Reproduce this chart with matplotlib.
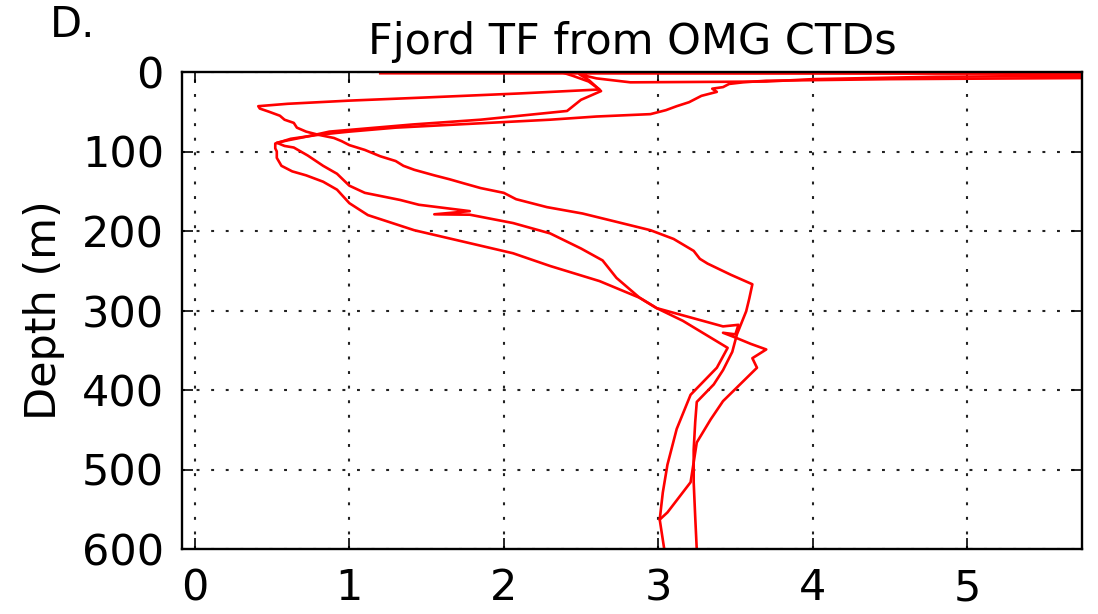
import matplotlib
matplotlib.use("Agg")
import matplotlib.pyplot as plt

# ---- data (thermal forcing in deg C vs depth in m) ----
p1_depth = [0, 5, 12, 22, 27, 32, 36, 40, 43, 46, 50, 55, 60, 64, 70, 75, 79, 83, 87,
            92, 98, 106, 112, 118, 123, 130, 135, 140, 146, 152, 160, 170, 178, 188,
            199, 210, 225, 235, 241, 255, 267, 285, 301, 330, 352, 375, 393, 415, 440,
            475, 516, 560, 601]
p1_tf = [2.37, 2.45, 2.55, 2.62, 2.1, 1.5, 1.0, 0.6, 0.41, 0.42, 0.48, 0.55, 0.58, 0.64,
         0.66, 0.72, 0.8, 0.9, 0.95, 1.0, 1.1, 1.2, 1.3, 1.35, 1.42, 1.55, 1.65, 1.74,
         1.85, 2.0, 2.08, 2.28, 2.51, 2.72, 2.95, 3.1, 3.23, 3.27, 3.32, 3.47, 3.61,
         3.59, 3.57, 3.51, 3.48, 3.42, 3.36, 3.25, 3.24, 3.23, 3.23, 3.24, 3.25]

p2_depth = [1.6, 2.2, 4, 6, 9, 12, 13, 8, 3, 10, 24, 35, 49, 60, 66, 75, 81, 86, 89, 93,
            95, 105, 118, 128, 143, 152, 161, 167, 175, 179, 179.5, 190, 203, 222, 237,
            259, 284, 297, 313, 347, 372, 406, 449, 494, 529, 563, 601]
p2_tf = [1.2, 6.3, 6.3, 4.8, 4.0, 3.7, 2.82, 2.6, 2.49, 2.55, 2.63, 2.5, 2.41, 1.85,
         1.41, 0.87, 0.73, 0.6, 0.53, 0.58, 0.64, 0.73, 0.83, 0.92, 1.0, 1.1, 1.33,
         1.45, 1.78, 1.55, 1.78, 2.06, 2.3, 2.5, 2.64, 2.73, 2.88, 2.99, 3.16, 3.45,
         3.38, 3.21, 3.12, 3.06, 3.03, 3.01, 3.04]

p3_depth = [0, 7, 9, 11, 13, 15, 19, 21, 25, 30, 38, 43, 48, 53, 56, 60, 65, 70, 75,
            79, 84, 90, 96, 100, 108, 118, 125, 130, 138, 148, 165, 180, 199, 228, 244,
            263, 284, 297, 320, 318, 330, 328, 334, 342, 349, 360, 372, 393, 414, 437,
            466, 516, 554, 563]
p3_tf = [6.3, 6.3, 4.5, 3.7, 3.55, 3.46, 3.42, 3.35, 3.38, 3.28, 3.2, 3.12, 3.05, 2.95,
         2.6, 2.3, 1.8, 1.3, 1.0, 0.8, 0.62, 0.52, 0.52, 0.53, 0.53, 0.56, 0.63, 0.72,
         0.83, 0.92, 1.0, 1.12, 1.42, 2.06, 2.3, 2.62, 2.88, 2.99, 3.42, 3.52, 3.5, 3.42,
         3.5, 3.6, 3.7, 3.61, 3.64, 3.53, 3.42, 3.34, 3.25, 3.21, 3.06, 3.01]

profiles = [(p1_tf, p1_depth), (p2_tf, p2_depth), (p3_tf, p3_depth)]

xticks = [0, 1, 2, 3, 4, 5]
yticks = [0, 100, 200, 300, 400, 500, 600]

title = "Fjord TF from OMG CTDs"
ylabel = "Depth (m)"
panel = "D."

plt.rcParams['font.family'] = ['DejaVu Sans']
fs = 31

fig = plt.figure(figsize=(10.98, 6.14), dpi=100)
ax = fig.add_axes([182 / 1098, 1 - 549 / 614, (1082 - 182) / 1098, (549 - 72) / 614])

for tf, d in profiles:
    ax.plot(tf, d, color='red', lw=1.9, solid_joinstyle='round')

ax.set_xlim(-0.084, 5.745)
ax.set_ylim(600, 0)
ax.set_xticks(xticks)
ax.set_yticks(yticks)
ax.set_axisbelow(True)
ax.grid(True, color='#222222', linewidth=1.5, dashes=(1.4, 5.6))
ax.tick_params(direction='in', top=True, right=True, length=8, width=1.2,
               labelsize=fs, pad=13)
for s in ax.spines.values():
    s.set_linewidth(1.7)

ax.set_ylabel(ylabel, fontsize=fs, labelpad=12)
ax.set_title(title, fontsize=fs, pad=13)
fig.text(50 / 1098, 1 - 4 / 614, panel, fontsize=30, ha='left', va='top')

fig.savefig("out.png", dpi=100)
